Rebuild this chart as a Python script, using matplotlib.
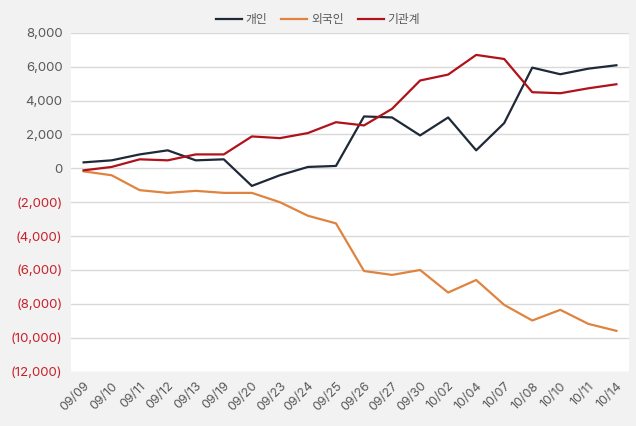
import matplotlib.pyplot as plt
import numpy as np

dates = ['09/09', '09/10', '09/11', '09/12', '09/13', '09/19', '09/20', '09/23', '09/24', '09/25',
         '09/26', '09/27', '09/30', '10/02', '10/04', '10/07', '10/08', '10/10', '10/11', '10/14']
individual = [350, 470, 820, 1060, 470, 530, -1040, -410, 80, 140,
              3060, 3000, 1940, 3000, 1060, 2670, 5940, 5550, 5880, 6080]
foreign = [-180, -410, -1290, -1450, -1330, -1450, -1450, -2000, -2800, -3250,
           -6060, -6290, -6000, -7330, -6590, -8060, -8980, -8350, -9180, -9590]
institution = [-120, 80, 530, 470, 820, 820, 1880, 1780, 2080, 2720,
               2530, 3510, 5180, 5530, 6690, 6450, 4490, 4430, 4720, 4960]
yticks = list(range(-12000, 8001, 2000))

plt.rcParams['font.family'] = ['Inter', 'Noto Sans CJK KR', 'DejaVu Sans']

fig = plt.figure(figsize=(6.36, 4.26), dpi=100, facecolor='#f2f2f2')
ax = fig.add_axes([0.1116, 0.1275, 0.8774, 0.7957])
ax.set_facecolor('white')

x = np.arange(len(dates))
ax.plot(x, individual, color='#1f2937', lw=1.6, label='개인')
ax.plot(x, foreign, color='#e0833f', lw=1.6, label='외국인')
ax.plot(x, institution, color='#b0121b', lw=1.6, label='기관계')

ax.set_xlim(-0.45, len(dates) - 0.55)
ax.set_ylim(-12000, 8000)
ax.set_yticks(yticks)
labels = [f'{v:,}' if v >= 0 else f'({-v:,})' for v in yticks]
ax.set_yticklabels(labels, fontsize=9.5)
for lab, v in zip(ax.get_yticklabels(), yticks):
    lab.set_color('#595959' if v >= 0 else '#c8202a')
ax.set_xticks(x)
ax.set_xticklabels(dates, rotation=45, ha='right', rotation_mode='anchor',
                   fontsize=9, color='#595959')
ax.tick_params(axis='both', length=0, pad=6)
ax.grid(axis='y', color='#d9d9d9', lw=1)
ax.set_axisbelow(True)
for s in ax.spines.values():
    s.set_visible(False)

fig.legend(loc='upper center', bbox_to_anchor=(0.5, 0.995), ncol=3, frameon=False,
           prop={'family': ['Noto Sans CJK KR', 'DejaVu Sans'], 'size': 8.5},
           handlelength=2.2, columnspacing=1.2, handletextpad=0.3,
           labelcolor='#595959')

plt.savefig('out.png', facecolor=fig.get_facecolor())
